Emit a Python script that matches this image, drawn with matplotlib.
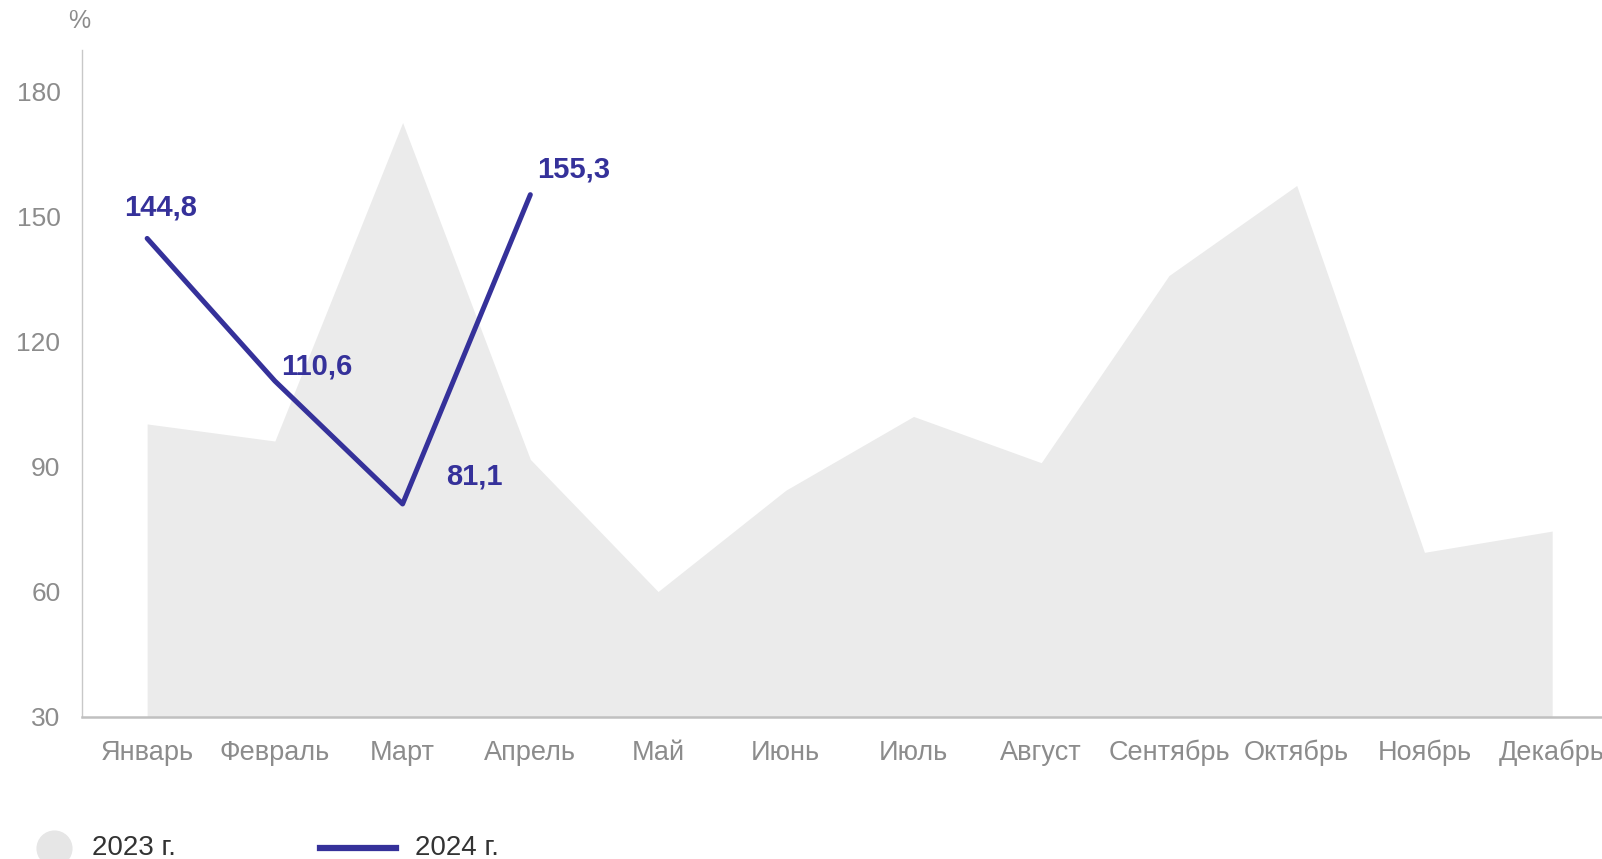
import numpy as np
import matplotlib

matplotlib.use("Agg")
import matplotlib.pyplot as plt
from matplotlib.lines import Line2D

plt.rcParams["font.family"] = ["Liberation Sans", "DejaVu Sans"]

months = ["Январь", "Февраль", "Март", "Апрель", "Май", "Июнь",
          "Июль", "Август", "Сентябрь", "Октябрь", "Ноябрь", "Декабрь"]
vals_2023 = [100.3, 96.2, 172.6, 91.8, 60.1, 84.4, 102.1, 91.0, 135.9, 157.5, 69.5, 74.6]
vals_2024 = [144.8, 110.6, 81.1, 155.3]
labels_2024 = ["144,8", "110,6", "81,1", "155,3"]
yticks = [30, 60, 90, 120, 150, 180]

W, H = 1602, 859
AREA = "#ebebeb"
LINE = "#35319a"
GREY = "#8c8c8c"

fig = plt.figure(figsize=(W / 100, H / 100), dpi=100)
ax = fig.add_axes([82 / W, 1 - 717 / H, 1 - 82 / W, (717 - 50) / H])

x = np.arange(len(months))
ax.fill_between(x, 30, vals_2023, color=AREA, lw=0, zorder=1)
x24 = np.arange(len(vals_2024))
ax.plot(x24, vals_2024, color=LINE, lw=3.6, solid_capstyle="round", zorder=3)

# label offsets in pixels (right, up) relative to each point
offs = [(13, 31), (42, 14), (72, 27), (43, 25)]
for xi, yi, lab, (dx, dy) in zip(x24, vals_2024, labels_2024, offs):
    ax.annotate(lab, (xi, yi), xytext=(dx, dy), textcoords="offset pixels",
                ha="center", va="center", fontsize=21, fontweight="bold",
                color=LINE, zorder=4)

ax.set_xlim(-0.51, 11.39)
ax.set_ylim(30, 190)
ax.set_xticks(x)
ax.set_xticklabels(months)
ax.set_yticks(yticks)
ax.tick_params(length=0, colors=GREY)
ax.tick_params(axis="x", labelsize=19.5, pad=16.5)
ax.tick_params(axis="y", labelsize=19, pad=15.5)
for s in ("top", "right"):
    ax.spines[s].set_visible(False)
ax.spines["left"].set_color("#c8c8c8")
ax.spines["left"].set_linewidth(1.0)
ax.spines["bottom"].set_color("#c0c0c0")
ax.spines["bottom"].set_linewidth(1.8)

fig.text(79 / W, 1 - 21 / H, "%", ha="center", va="center", fontsize=18, color=GREY)

# legend drawn by hand, partially cut by the bottom edge like the original
ly = 1 - 848 / H
fig.add_artist(Line2D([54 / W], [ly], marker="o", ms=25, color="#e6e6e6",
                      transform=fig.transFigure, ls=""))
fig.text(92 / W, ly, "2023 г.", ha="left", va="center", fontsize=20, color="#333333")
fig.add_artist(Line2D([320 / W, 396 / W], [ly, ly], color=LINE, lw=4.5,
                      transform=fig.transFigure))
fig.text(415 / W, ly, "2024 г.", ha="left", va="center", fontsize=20, color="#333333")

fig.savefig("out.png", dpi=100)
